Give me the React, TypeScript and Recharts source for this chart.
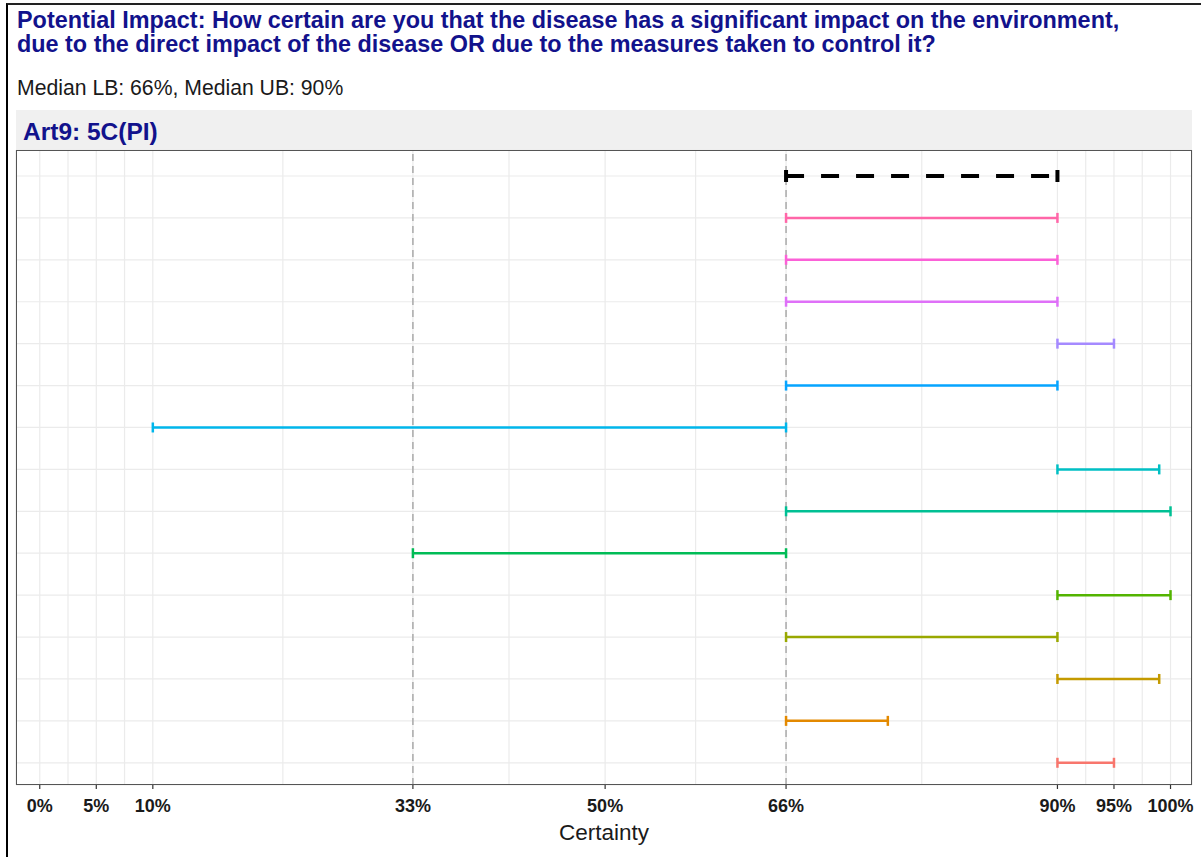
import React from 'react';
import { CartesianGrid, ReferenceLine, Scatter, ScatterChart, XAxis, YAxis } from 'recharts';

// rows are numbered from the bottom of the panel (1) to the top (15)
const rowIds = [1, 2, 3, 4, 5, 6, 7, 8, 9, 10, 11, 12, 13, 14, 15];
const lowerBounds = [90, 66, 90, 66, 90, 33, 66, 90, 10, 66, 90, 66, 66, 66, 66];
const upperBounds = [95, 75, 99, 90, 100, 66, 100, 99, 66, 90, 95, 90, 90, 90, 90];
const rowColors = [
  '#F8766D', '#E38900', '#C49A00', '#99A800', '#53B400', '#00BC56', '#00C094',
  '#00BFC4', '#00B6EB', '#06A4FF', '#A58AFF', '#DF70F8', '#FB61D7', '#FF66A8', '#000000',
];
const medianRow = 15;

const majorTicks = [0, 5, 10, 33, 50, 66, 90, 95, 100];
const minorTicks = [2.5, 7.5, 21.5, 41.5, 58, 78, 92.5, 97.5];
const refLines = [33, 66];

const TITLE = 'Potential Impact: How certain are you that the disease has a significant impact on the environment,';
const TITLE2 = 'due to the direct impact of the disease OR due to the measures taken to control it?';
const SUBTITLE = 'Median LB: 66%, Median UB: 90%';
const STRIP = 'Art9: 5C(PI)';

const FONT = '"Liberation Sans", Arial, sans-serif';
const NAVY = '#12128c';

const W = 1201;
const H = 857;
const PLOT = { left: 16, right: 1192, top: 150, bottom: 785 };

const allTicks = [...majorTicks, ...minorTicks].sort((a, b) => a - b);

function XTick({ x, y, payload }: any) {
  if (!majorTicks.includes(payload.value)) return <g />;
  return (
    <g>
      <line x1={x} x2={x} y1={y} y2={y + 4} stroke="#333" strokeWidth={1.2} />
      <text x={x} y={y + 27} textAnchor="middle" fontFamily={FONT} fontWeight="bold" fontSize={18} fill="#1a1a1a">
        {`${payload.value}%`}
      </text>
    </g>
  );
}

const EmptyTick = () => <g />;

function capShape(color: string, median: boolean) {
  return ({ cx, cy }: any) => {
    const h = median ? 6 : 5;
    return (
      <line x1={cx} x2={cx} y1={cy - h} y2={cy + h} stroke={color} strokeWidth={median ? 4 : 2.5} />
    );
  };
}

export default function App() {
  const series = rowIds.map((row, i) => ({
    row,
    color: rowColors[i],
    points: [
      { x: lowerBounds[i], y: row },
      { x: upperBounds[i], y: row },
    ],
  }));

  return (
    <div style={{ position: 'absolute', left: 0, top: 0, width: W, height: H, background: '#fff', fontFamily: FONT }}>
      <div style={{ position: 'absolute', left: 6, top: 3, width: W - 6, height: H - 3, borderTop: '2px solid #222', borderLeft: '2.5px solid #000', boxSizing: 'border-box' }} />
      <div style={{ position: 'absolute', left: 17, top: 8, color: NAVY, fontWeight: 'bold', fontSize: 23.4, lineHeight: '24px', whiteSpace: 'nowrap' }}>
        <div>{TITLE}</div>
        <div>{TITLE2}</div>
      </div>
      <div style={{ position: 'absolute', left: 17, top: 76, color: '#1a1a1a', fontSize: 21.2, lineHeight: '24px', whiteSpace: 'nowrap' }}>
        {SUBTITLE}
      </div>
      <div style={{
        position: 'absolute', left: PLOT.left, top: 110, width: PLOT.right - PLOT.left, height: PLOT.top - 110,
        background: '#f0f0f0', display: 'flex', alignItems: 'center', boxSizing: 'border-box', paddingTop: 4,
      }}>
        <span style={{ marginLeft: 7, color: NAVY, fontWeight: 'bold', fontSize: 24.5 }}>{STRIP}</span>
      </div>

      <div style={{ position: 'absolute', left: 0, top: 0 }}>
        <ScatterChart
          width={W}
          height={H}
          margin={{ top: PLOT.top, right: W - PLOT.right, bottom: 0, left: PLOT.left }}
        >
          <CartesianGrid stroke="#ebebeb" strokeWidth={1.2} />
          <XAxis
            type="number"
            dataKey="x"
            domain={[-2.1, 101.9]}
            ticks={allTicks}
            interval={0}
            allowDataOverflow
            height={H - PLOT.bottom}
            tickSize={0}
            tickMargin={0}
            tickLine={false}
            axisLine={false}
            tick={<XTick />}
            label={{ value: 'Certainty', position: 'insideTop', offset: 39, fontSize: 22.5, fill: '#1a1a1a', fontFamily: FONT }}
          />
          <YAxis
            type="number"
            dataKey="y"
            domain={[0.47, 15.62]}
            ticks={rowIds}
            interval={0}
            allowDataOverflow
            width={0}
            tickSize={4}
            tickLine={{ stroke: '#333', strokeWidth: 1.2 }}
            axisLine={false}
            tick={<EmptyTick />}
          />
          {refLines.map((v) => (
            <ReferenceLine key={v} x={v} stroke="#aaaaaa" strokeWidth={1.5} strokeDasharray="7 5" />
          ))}
          {series.map((s) => {
            const median = s.row === medianRow;
            return (
              <Scatter
                key={s.row}
                data={s.points}
                fill={s.color}
                isAnimationActive={false}
                legendType="none"
                line={{
                  stroke: s.color,
                  strokeWidth: median ? 4 : 2.5,
                  strokeDasharray: median ? '18 17' : undefined,
                }}
                shape={capShape(s.color, median)}
              />
            );
          })}
        </ScatterChart>
      </div>

      <div style={{
        position: 'absolute', left: PLOT.left, top: PLOT.top, width: PLOT.right - PLOT.left, height: PLOT.bottom - PLOT.top,
        border: '1.5px solid #555', boxSizing: 'border-box', pointerEvents: 'none',
      }} />
    </div>
  );
}
